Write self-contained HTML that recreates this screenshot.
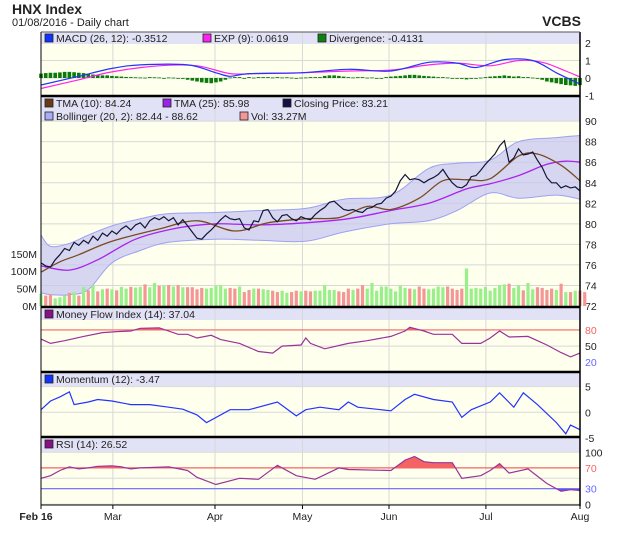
<!DOCTYPE html>
<html><head><meta charset="utf-8"><style>
body{margin:0;background:#fff;width:620px;height:535px;overflow:hidden;font-family:"Liberation Sans",sans-serif}
svg text{font-family:"Liberation Sans",sans-serif}
</style></head><body>
<svg id="c" width="620" height="535" xmlns="http://www.w3.org/2000/svg">
<text x="12" y="14" font-size="14" font-weight="bold" fill="#222">HNX Index</text>
<text x="12" y="26" font-size="11" fill="#222">01/08/2016 - Daily chart</text>
<text x="581" y="26" font-size="14" font-weight="bold" fill="#222" text-anchor="end">VCBS</text>
</svg>
<script>
// ---- data ----
const close = [76.2,75.9,75.8,76.5,77.0,77.6,77.4,78.2,77.9,78.4,78.1,78.8,78.4,79.1,78.8,79.3,79.0,79.5,79.8,79.4,79.9,80.1,79.6,80.3,80.6,80.4,80.7,80.3,80.6,79.9,80.4,79.8,79.2,78.6,78.5,79.0,79.4,79.9,80.4,80.8,80.5,80.4,80.5,79.6,79.4,80.3,80.2,81.3,81.4,80.6,80.2,80.8,80.9,80.5,80.3,80.7,80.5,80.4,80.9,81.3,81.6,82.1,82.2,81.8,81.4,81.3,81.4,81.2,81.1,81.5,81.6,81.9,82.0,82.5,82.7,83.2,84.2,84.8,84.3,84.4,84.3,84.0,84.3,84.5,84.8,85.3,84.6,84.0,83.6,83.5,83.8,84.6,84.7,85.2,85.8,86.3,86.8,87.6,88.1,86.0,86.4,87.3,86.7,86.8,87.0,86.2,85.5,84.5,84.0,84.0,83.5,83.7,83.5,83.6,83.2];
const volume = [35,30,34,22,25,30,38,40,30,55,45,60,42,48,50,48,45,55,50,55,53,55,62,54,66,58,58,60,56,60,54,54,54,48,52,50,52,58,60,50,52,50,56,40,46,50,50,48,46,44,40,44,38,40,44,42,44,42,44,44,60,46,46,42,40,50,46,50,60,50,66,44,56,56,50,42,58,52,50,48,56,50,48,50,56,54,56,50,46,50,108,50,52,50,55,44,52,60,62,64,52,60,45,66,48,54,52,46,50,46,64,40,40,44,44,40];
const bbDays  = [0,2,6,10,15,21,27,37,46,56,64,74,82,88,95,101,109,114];
const bbUpper = [78.9,77.8,78.1,78.9,79.8,80.5,81.0,81.1,81.3,81.5,82.4,82.8,85.4,85.9,86.2,88.0,88.4,88.6];
const bbLower = [73.3,73.1,73.1,73.6,76.2,77.4,78.2,78.5,78.4,78.3,79.2,80.0,80.3,81.3,83.0,82.5,82.8,82.4];
const tmaDays = [0,4,8,15,25,33,41,48,56,63,69,74,80,85,90,95,101,105,110,114];
const tma10   = [75.3,76.3,77.0,78.3,79.5,80.3,79.3,80.1,80.5,80.6,81.7,81.4,82.5,84.2,84.3,84.4,86.6,86.8,85.7,84.2];
const tma25Days=[0,6,12,20,29,37,46,56,65,74,82,90,95,101,107,111,114];
const tma25   = [75.9,75.5,76.5,78.5,79.6,80.0,79.9,80.1,80.5,81.3,82.0,83.4,83.9,84.7,85.8,86.1,86.0];
const macdDays = [0,8,15,21,31,37,40,44,55,65,74,82,88,92,98,104,109,114];
const macdLine = [-0.4,0.1,0.55,0.75,0.75,0.3,0.1,0.25,0.3,0.5,0.4,0.9,0.85,0.6,1.05,1.0,0.3,-0.35];
const sigDays  = [0,8,15,25,33,40,46,55,65,74,82,88,95,101,106,111,114];
const sigLine  = [-0.6,-0.1,0.35,0.7,0.7,0.25,0.25,0.3,0.4,0.45,0.75,0.85,0.7,1.0,0.9,0.4,0.06];
const divergence = [0.25,0.28,0.3,0.3,0.32,0.35,0.35,0.33,0.3,0.28,0.25,0.2,0.18,0.15,0.15,0.12,0.1,0.08,0.06,0.05,0.04,0.03,0.02,0.05,0.04,0.03,0,0.03,0.02,0,-0.05,-0.1,-0.15,-0.2,-0.25,-0.28,-0.3,-0.25,-0.2,-0.1,0.03,0.05,0.05,0,0.05,0.02,0.05,0.05,0.05,0.03,0.05,0.03,0.04,0.02,0,0.02,0.03,0.05,0.05,0.05,0.12,0.15,0.15,0.12,0.08,0.05,0.03,0.05,0.05,0.02,0.03,0,0,0.05,0.08,0.1,0.12,0.15,0.18,0.18,0.15,0.12,0.1,0.08,0.05,0.05,0.03,0,-0.03,-0.05,-0.08,-0.05,-0.03,0.02,0.05,0.08,0.1,0.12,0.15,0.12,0.08,0.1,0.05,0.05,0.02,0,-0.1,-0.2,-0.25,-0.3,-0.35,-0.4,-0.42,-0.45,-0.41];
const mfiDays = [0,2,5,9,13,16,19,21,25,29,31,33,36,38,42,46,49,51,55,56,57,60,65,69,74,77,78,81,83,87,89,93,95,97,99,103,107,110,112,114];
const mfi     = [63,55,60,68,75,77,78,83,84,72,72,65,70,62,55,40,37,50,52,65,55,45,55,60,68,78,85,78,72,72,55,55,65,78,67,68,52,38,30,37];
const momDays = [0,2,4,6,7,10,12,15,19,23,27,30,33,35,40,44,50,54,56,59,63,65,67,74,77,79,83,87,89,91,95,97,100,102,105,109,111,112,114];
const momentum= [0.5,2.2,3,4,1.5,2,2.5,2.2,1.5,1.5,1,0.6,-0.5,-2,0.5,0.5,2,-0.7,0.5,1,0.5,2,1,0.3,2.5,3.5,2.5,2,-1,0.5,2,3.8,1,3.8,1.5,-2,-4.2,-2.5,-3.4];
const rsiDays = [0,2,4,6,8,10,12,15,17,19,21,27,31,33,37,42,46,50,54,58,63,65,74,77,79,81,83,87,89,93,95,97,99,103,107,110,112,114];
const rsi     = [50,55,65,72,68,70,73,74,72,68,70,72,65,52,38,50,48,75,55,48,70,67,65,85,92,82,80,80,50,55,65,78,60,68,40,25,28,26.5];
const monthLabels = ["Feb 16","Mar","Apr","May","Jun","Jul","Aug"];
const monthDays   = [0,15.2,36.8,55.3,73.6,94.1,114];

// ---- layout ----
const svg=document.getElementById('c');
const NS='http://www.w3.org/2000/svg';
const L=41,R=580,N=114,FS=10.5;
const X=i=>L+i*(R-L)/N;
function el(tag,attrs,parent){const e=document.createElementNS(NS,tag);for(const k in attrs)e.setAttribute(k,attrs[k]);(parent||svg).appendChild(e);return e;}
function smooth(pts){let d='M'+pts[0][0].toFixed(1)+','+pts[0][1].toFixed(1);for(let i=0;i<pts.length-1;i++){const p0=pts[i-1]||pts[i],p1=pts[i],p2=pts[i+1],p3=pts[i+2]||p2;const c1=[p1[0]+(p2[0]-p0[0])/6,p1[1]+(p2[1]-p0[1])/6],c2=[p2[0]-(p3[0]-p1[0])/6,p2[1]-(p3[1]-p1[1])/6];d+=`C${c1[0].toFixed(1)},${c1[1].toFixed(1)} ${c2[0].toFixed(1)},${c2[1].toFixed(1)} ${p2[0].toFixed(1)},${p2[1].toFixed(1)}`;}return d;}
function poly(pts){return 'M'+pts.map(p=>p[0].toFixed(1)+','+p[1].toFixed(1)).join('L');}
function panel(name,top,bot,legendH){
  const g=el('g',{});
  
  
  el('rect',{x:L,y:top,width:R-L,height:bot-top,fill:'#ffffee'},g);
  el('rect',{x:L,y:top,width:R-L,height:legendH,fill:'#e2e2f6'},g);
  monthDays.slice(1,6).forEach(d=>el('line',{x1:X(d),x2:X(d),y1:top,y2:bot,stroke:'#d8d8d8','stroke-width':1},g));
  return g;
}
function hgrid(g,y,color,w){el('line',{x1:L,x2:R,y1:y,y2:y,stroke:color||'#d8d8d8','stroke-width':w||1},g);}
function rlabel(g,y,t,color){const e=el('text',{x:R+5,y:y+4,'font-size':FS,fill:color||'#222'},g);e.textContent=t;}
function legend(g,x,y,color,t){el('rect',{x:x,y:y-8,width:8,height:8,fill:color,stroke:'#222','stroke-width':0.8},g);const e=el('text',{x:x+11,y:y,'font-size':FS,fill:'#222'},g);e.textContent=t;}

// MACD panel
{const top=32,bot=96,Y=v=>78-v*17.5;
const g=panel('macd-panel',top,bot,12);
[1,0].forEach(v=>hgrid(g,Y(v)));
[2,1,0,-1].forEach(v=>rlabel(g,Y(v),String(v)));
divergence.forEach((v,i)=>{const b=el('rect',{x:X(i)-1.8,y:Math.min(Y(0),Y(v)),width:3.6,height:Math.max(0.8,Math.abs(Y(v)-Y(0))),fill:'#0a7a0a'},g);});
const s=el('path',{d:smooth(sigDays.map((d,i)=>[X(d),Y(sigLine[i])])),fill:'none',stroke:'#ff22ee','stroke-width':1.2},g);

const m=el('path',{d:smooth(macdDays.map((d,i)=>[X(d),Y(macdLine[i])])),fill:'none',stroke:'#2233ff','stroke-width':1.2},g);

legend(g,45,42,'#1133ff','MACD (26, 12): -0.3512');legend(g,203,42,'#ff22ee','EXP (9): 0.0619');legend(g,318,42,'#108010','Divergence: -0.4131');}

// Main panel
{const top=96,bot=307,Y=v=>306-(v-72)*10.27,VY=v=>306-v*0.348;
const g=panel('price-panel',top,bot,25);
[90,88,86,84,82,80,78,76,74].forEach(v=>hgrid(g,Y(v)));
[90,88,86,84,82,80,78,76,74,72].forEach(v=>rlabel(g,Y(v),String(v)));
[[0,'0M'],[50,'50M'],[100,'100M'],[150,'150M']].forEach(([v,t])=>{const e=el('text',{x:37,y:VY(v)+4,'font-size':FS,fill:'#222','text-anchor':'end'},svg);e.textContent=t;});
const up=bbDays.map((d,i)=>[X(d),Y(bbUpper[i])]),lo=bbDays.map((d,i)=>[X(d),Y(bbLower[i])]);
const band=el('path',{d:smooth(up)+'L'+smooth(lo.slice().reverse()).slice(1)+'Z',fill:'#c8c8f0','fill-opacity':0.75,stroke:'none'},g);

el('path',{d:smooth(up),fill:'none',stroke:'#9da0f4','stroke-width':1},g);
el('path',{d:smooth(lo),fill:'none',stroke:'#9da0f4','stroke-width':1},g);
volume.forEach((v,i)=>{const c=(i===0||close[i]>=close[i-1])?'#99f08a':'#f59696';const b=el('rect',{x:X(i)-1.6,y:VY(v),width:3.2,height:306-VY(v),fill:c},g);});
const t25=el('path',{d:smooth(tma25Days.map((d,i)=>[X(d),Y(tma25[i])])),fill:'none',stroke:'#aa22ee','stroke-width':1.3},g);

const t10=el('path',{d:smooth(tmaDays.map((d,i)=>[X(d),Y(tma10[i])])),fill:'none',stroke:'#7a4a22','stroke-width':1.3},g);

const cl=el('path',{d:poly(close.map((v,i)=>[X(i),Y(v)])),fill:'none',stroke:'#141438','stroke-width':1.2},g);

legend(g,45,107,'#6b3a14','TMA (10): 84.24');legend(g,163,107,'#9922ee','TMA (25): 85.98');legend(g,283,107,'#111144','Closing Price: 83.21');
legend(g,45,120,'#a8acf4','Bollinger (20, 2): 82.44 - 88.62');legend(g,240,120,'#f59696','Vol: 33.27M');}

function oscPanel(name,top,bot,lh,Y,days,vals,color,hi,lo,labels,legendText){
  const g=panel(name,top,bot,lh);
  labels.forEach(([v,t,c])=>{ if(!c) hgrid(g,Y(v)); rlabel(g,Y(v),t,c);});
  const pts=days.map((d,i)=>[X(d),Y(vals[i])]);
  if(hi!=null){const cid=name+'-hi';const cp=el('clipPath',{id:cid},g);el('rect',{x:L,y:top,width:R-L,height:Y(hi)-top},cp);
    el('path',{d:poly(pts)+`L${X(days[days.length-1])},${Y(hi)}L${X(days[0])},${Y(hi)}Z`,fill:'#f46464','clip-path':`url(#${cid})`},g);}
  if(lo!=null){const cid=name+'-lo';const cp=el('clipPath',{id:cid},g);el('rect',{x:L,y:Y(lo),width:R-L,height:bot-Y(lo)},cp);
    el('path',{d:poly(pts)+`L${X(days[days.length-1])},${Y(lo)}L${X(days[0])},${Y(lo)}Z`,fill:'#5555ee','clip-path':`url(#${cid})`},g);}
  if(hi!=null) el('line',{x1:L,x2:R,y1:Y(hi),y2:Y(hi),stroke:'#f46464','stroke-width':1.2},g);
  if(lo!=null) el('line',{x1:L,x2:R,y1:Y(lo),y2:Y(lo),stroke:'#6666ff','stroke-width':1.2},g);
  const p=el('path',{d:poly(pts),fill:'none',stroke:color,'stroke-width':1.2},g);
  
  legend(g,45,top+11,color==='#2233ff'?'#1133ff':'#881188',legendText);
}
oscPanel('mfi-panel',307,372,13,v=>373-v*0.538,mfiDays,mfi,'#993399',80,null,[[80,'80','#f46464'],[50,'50'],[20,'20','#6666ff']],'Money Flow Index (14): 37.04');
oscPanel('momentum-panel',372,437,14,v=>412.3-v*5.13,momDays,momentum,'#2233ff',null,null,[[5,'5'],[0,'0'],[-5,'-5']],'Momentum (12): -3.47');
oscPanel('rsi-panel',437,505,15,v=>504.3-v*0.52,rsiDays,rsi,'#993399',70,30,[[100,'100'],[70,'70','#f46464'],[50,''],[30,'30','#6666ff'],[0,'0']],'RSI (14): 26.52');

// separators & axes
[96,307,372,437].forEach(y=>el('line',{x1:L,x2:R,y1:y,y2:y,stroke:'#000','stroke-width':2.5}));
el('line',{x1:L,x2:L,y1:32,y2:506,stroke:'#000','stroke-width':1});
el('line',{x1:R,x2:R,y1:32,y2:506,stroke:'#000','stroke-width':1.5});
el('line',{x1:L,x2:R,y1:505,y2:505,stroke:'#000','stroke-width':1});
el('line',{x1:L,x2:R,y1:32,y2:32,stroke:'#555','stroke-width':1});
monthLabels.forEach((t,i)=>{const x=X(monthDays[i]);el('line',{x1:x,x2:x,y1:505,y2:509,stroke:'#000'});
  const e=el('text',{x:i===0?x-5:x,y:520,'font-size':FS,'font-weight':i===0?'bold':'normal',fill:'#222','text-anchor':'middle'});e.textContent=t;
  });
</script>
</body></html>
